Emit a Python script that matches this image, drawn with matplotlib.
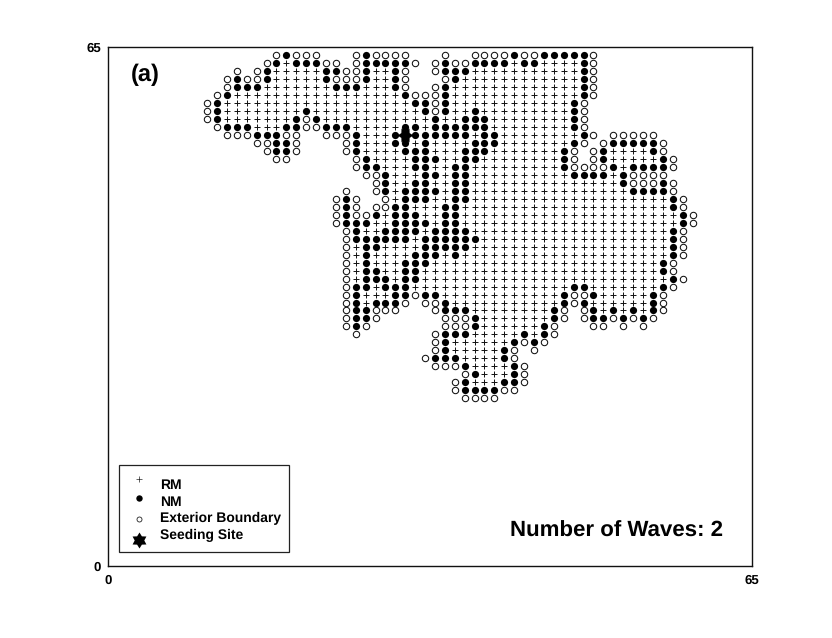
import re
import matplotlib
matplotlib.use("Agg")
import matplotlib.pyplot as plt
from matplotlib.patches import Rectangle
from matplotlib.path import Path
from matplotlib.transforms import Affine2D

plt.rcParams['font.family'] = ['Liberation Sans', 'DejaVu Sans']
plt.rcParams['text.hinting'] = 'no_hinting'
plt.rcParams['text.kerning_factor'] = 0

# Lattice rows, top to bottom. Token: <col><kind>[<last col>]
# + = RM, # = NM, o = exterior boundary
row_y = list(range(64, 20, -1))
row_cells = [
    "17o 18# 19o21 25o 26# 27o30 34o 37o40 41# 42o43 44#48 49o",
    "16o 17# 18+ 19#21 22o23 25o 26#30 31o 33o 34# 35o36 37#40 41+ 42#43 44+47 48# 49o",
    "13o 15o 16# 17+21 22#23 24o25 26# 27+28 29# 30o 33o 34#36 37+47 48# 49o",
    "12o 13# 14o15 16# 17+21 22# 23o25 26# 27+28 29# 30o 34o 35# 36+47 48# 49o",
    "12o 13#15 16+22 23#25 26+28 29# 30o 33o 34# 35+47 48# 49o",
    "11o 12# 13+29 30# 31o33 34# 35+47 48# 49o",
    "10o 11# 12+30 31#32 33o 34# 35+46 47# 48o",
    "10o 11# 12+19 20# 21+31 32# 33o 34# 35+36 37# 38+46 47# 48o",
    "10o 11# 12+18 19# 20o 21# 22+32 33# 34+35 36#38 39+46 47# 48o",
    "11o 12#14 15+17 18#19 20o21 22#24 25+29 30#31 32+ 33#38 39+46 47# 48o",
    "12o14 15#17 18o19 22o24 25# 26+28 29#36 37+ 38#39 40+47 48# 49o 51o55",
    "15o16 17#18 19o 24o 25# 26+28 29#30 31+ 32# 33+36 37#39 40+46 47# 48o 50o 51#55 56o",
    "16o 17#18 19o 24o 25# 26+29 30#32 33+35 36#38 39+45 46# 47o 49o 50# 51+54 55# 56o",
    "17o18 25o 26# 27+30 31#33 34+35 36#37 38+45 46# 47o 49o 50# 51+55 56# 57o",
    "25o 26#27 28+30 31#32 33+34 35#36 37+45 46# 47o50 51# 52+ 53#56 57o",
    "26o27 28# 29+31 32#33 34+ 35#36 37+46 47#50 51+ 52# 53o56",
    "27o 28# 29+30 31#32 33+34 35#36 37+51 52# 53o55 56# 57o",
    "24o 27o 28# 29+ 30#33 34+ 35#36 37+52 53#56 57o",
    "23o 24# 25o 28o 29+ 30#32 33+34 35#36 37+56 57# 58o",
    "23o 24# 25o 27o28 29#30 31+33 34#35 36+56 57# 58o",
    "23o 24# 25o26 27# 28+ 29#31 32+33 34#35 36+57 58# 59o",
    "23o 24#26 27+28 29#32 33+ 34#35 36+57 58# 59o",
    "24o 25# 26+27 28#31 32+ 33#36 37+56 57# 58o",
    "24o 25#30 31+ 32#37 38+56 57# 58o",
    "24o 25+ 26#27 28+31 32#36 37+56 57# 58o",
    "24o 25+ 26# 27+30 31#33 34+ 35# 36+56 57# 58o",
    "24o 25+ 26# 27+29 30#32 33+55 56# 57o",
    "24o 25+ 26#27 28+29 30#31 32+55 56# 57o",
    "24o 25+ 26#28 29+ 30#31 32+56 57# 58o",
    "24o 25#26 27+ 28#30 31+46 47#48 49+55 56# 57o",
    "24o 25# 26+28 29#30 31o 32#33 34+45 46# 47o48 49# 50+54 55# 56o",
    "24o 25# 26+ 27#29 30o 32o33 34# 35+45 46# 47o 48# 49+54 55# 56o",
    "24o 25#26 27o29 33o 34#36 37+44 45# 46o 48o 49# 50+ 51# 52+ 53# 54+ 55# 56o",
    "24o 25#26 27o 34o36 37# 38+44 45# 46o 48o 49#50 51o 52# 53o 54# 55o",
    "24o 25# 26o 34o36 37# 38+43 44# 45o 49o50 52o 54o",
    "25o 33o 34#36 37+41 42# 43+ 44# 45o",
    "33o 34# 35+40 41# 42o 43# 44o",
    "33o 34# 35+39 40# 41o 43o",
    "32o 33#35 36+39 40# 41o",
    "33o35 36# 37+40 41# 42o",
    "36o 37# 38+40 41# 42o",
    "35o 36# 37+39 40#41 42o",
    "35o 36#39 40o41",
    "36o39",
]
seed_site = (30, 54)
axis_limit = 65
legend_labels = ["RM", "NM", "Exterior Boundary", "Seeding Site"]
annotation = "Number of Waves: 2"
panel_label = "(a)"

points = {"+": ([], []), "#": ([], []), "o": ([], [])}
for y, cells in zip(row_y, row_cells):
    for first, kind, last in re.findall(r"(\d+)([+#o])(\d*)", cells):
        for col in range(int(first), int(last or first) + 1):
            points[kind][0].append(col)
            points[kind][1].append(y)

star = Path.unit_regular_star(6, 0.6)
star_grid = star.transformed(Affine2D().rotate_deg(30))

W, H = 832, 638
fig = plt.figure(figsize=(W / 100, H / 100), dpi=100)
L, R, T, B = 108, 752, 47, 566
ax = fig.add_axes([L / W, 1 - B / H, (R - L) / W, (B - T) / H])
ax.set_xlim(0, axis_limit)
ax.set_ylim(0, axis_limit)
ax.set_xticks([0, axis_limit])
ax.set_yticks([0, axis_limit])
ax.tick_params(length=0, labelsize=9.5)
ax.tick_params(axis='x', pad=6)
ax.tick_params(axis='y', pad=5)
for lab in ax.get_xticklabels() + ax.get_yticklabels():
    lab.set_fontweight('bold')
for s in ax.spines.values():
    s.set_linewidth(1.0)
    s.set_color('#111111')


def draw_marks(a, xs, ys, kind, **kw):
    if kind == "+":
        a.plot(xs, ys, ls='none', marker='+', ms=5.0, mew=0.7, color='#111111', **kw)
    elif kind == "#":
        a.plot(xs, ys, ls='none', marker='o', ms=5.2, mew=0, color='black', **kw)
    else:
        a.plot(xs, ys, ls='none', marker='o', ms=4.6, mew=0.75, mfc='white', mec='#111111', **kw)


for kind in "+#o":
    draw_marks(ax, points[kind][0], points[kind][1], kind, clip_on=False)
ax.plot([seed_site[0]], [seed_site[1]], ls='none', marker=star_grid, ms=11.5, mew=0,
        color='black', zorder=5)


def fx(px):
    return (px - L) / (R - L)


def fy(py):
    return (B - py) / (B - T)


tr = ax.transAxes
ax.add_patch(Rectangle((fx(119), fy(552)), fx(289) - fx(119), fy(465) - fy(552), transform=tr,
                       fc='white', ec='#222222', lw=0.9, zorder=6))
mark_py = [479, 498, 519, 540]
text_py = [485, 502, 518, 535]
for kind, my in zip("+#o", mark_py):
    ms = {"+": 4.0, "#": 4.6, "o": 3.6}[kind]
    if kind == "+":
        ax.plot([fx(139)], [fy(my)], transform=tr, ls='none', marker='+', ms=ms, mew=0.5,
                color='#222222', zorder=7)
    elif kind == "#":
        ax.plot([fx(139)], [fy(my)], transform=tr, ls='none', marker='o', ms=ms, mew=0,
                color='black', zorder=7)
    else:
        ax.plot([fx(139)], [fy(my)], transform=tr, ls='none', marker='o', ms=ms, mew=0.6,
                mfc='white', mec='#222222', zorder=7)
ax.plot([fx(139)], [fy(mark_py[3])], transform=tr, ls='none', marker=star, ms=11.5, mew=0,
        color='black', zorder=7)
for label, ty in zip(legend_labels, text_py):
    ax.text(fx(160), fy(ty), label, transform=tr, fontsize=10, fontweight='bold',
            ha='left', va='center', zorder=7)

ax.text(fx(723), fy(531), annotation, transform=tr, fontsize=16, fontweight='bold',
        ha='right', va='center')
ax.text(fx(145), fy(75), panel_label, transform=tr, fontsize=17, fontweight='bold',
        ha='center', va='center')

fig.savefig("out.png", dpi=100)
